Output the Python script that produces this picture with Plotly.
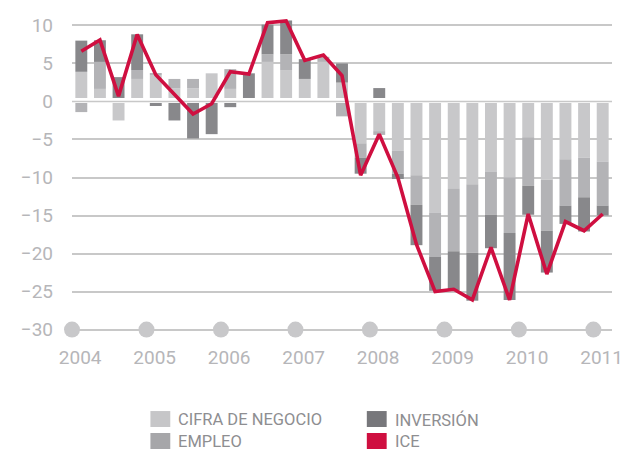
import plotly.graph_objects as go

# ---------------- data ----------------
years = [2004, 2005, 2006, 2007, 2008, 2009, 2010, 2011]
quarters = [f"{y}-T{q}" for y in range(2004, 2011) for q in range(1, 5)] + ["2011-T1"]

cifra = [3.9, 1.65, -2.5, 2.96, 3.5, 1.74, 1.74, 3.7,
         1.65, 0.0, 5.2, 4.13, 2.96, 5.2, 2.48, -5.5,
         -3.9, -6.5, -9.7, -14.6, -11.5, -10.9, -9.2, -10.0,
         -4.7, -10.3, -7.6, -7.4, -7.9]
empleo = [-1.4, 3.55, 0.0, 1.17, 0.2, 1.22, 1.22, 0.0,
          2.6, 0.0, 1.0, 2.07, 0.0, 0.67, -1.96, -1.9,
          -0.5, -3.0, -3.9, -5.8, -8.2, -9.0, -5.7, -7.3,
          -6.4, -6.7, -6.1, -5.2, -5.8]
inversion = [4.1, 2.85, 3.2, 4.7, -0.6, -2.5, -4.87, -4.3,
             -0.75, 3.7, 3.9, 4.45, 2.6, 0.0, 2.52, -2.1,
             1.76, -0.7, -5.3, -4.5, -5.15, -6.3, -4.4, -8.8,
             -3.8, -5.5, -2.4, -4.5, -1.3]
ice = [6.6, 8.1, 0.7, 8.8, 3.5, 0.9, -1.65, -0.3,
       3.9, 3.6, 10.35, 10.6, 5.4, 6.1, 3.4, -9.7,
       -4.3, -10.0, -18.8, -25.0, -24.7, -26.1, -19.2, -26.1,
       -14.8, -22.7, -15.8, -17.0, -14.8]

y_ticks = [10, 5, 0, -5, -10, -15, -20, -25, -30]
year_labels = [str(y) for y in years]
legend_names = ["CIFRA DE NEGOCIO", "EMPLEO", "INVERSIÓN", "ICE"]

# numeric x position for each quarter (center of quarter)
xq = [int(q[:4]) + (int(q[-1]) - 0.5) / 4 for q in quarters]

# ---------------- styles ----------------
C_CIFRA = "#c8c8ca"
C_EMPLEO = "#b3b3b6"
C_INV = "#88888b"
C_ICE = "#cf0f40"
LEG_COLORS = ["#c6c6c8", "#a6a6a9", "#77777b", "#cf0f40"]
GRID = "#c8c8c8"
TICK_COL = "#b6b6b9"
FONT = "Roboto"

OFF = 8  # page body margin offset
W, H = 628 - OFF, 451 - OFF
ML, MR, MT, MB = 72 - OFF, 12, 13.6 - OFF, 110.1
PW, PH = W - ML - MR, H - MT - MB
Y0, Y1 = -31.5, 11.5
X0, X1 = years[0], years[-1] + 0.25

fig = go.Figure()
for vals, col, name in [(cifra, C_CIFRA, legend_names[0]),
                        (empleo, C_EMPLEO, legend_names[1]),
                        (inversion, C_INV, legend_names[2])]:
    fig.add_trace(go.Bar(x=xq, y=vals, marker=dict(color=col, line=dict(width=0)),
                         name=name, showlegend=False))

# white band + zero line drawn over the bars (gap look of original)
px_per_unit = PH / (Y1 - Y0)
fig.add_trace(go.Scatter(x=[X0, X1], y=[0.9 / px_per_unit] * 2, mode="lines",
                         line=dict(color="white", width=5), showlegend=False,
                         hoverinfo="skip"))
fig.add_trace(go.Scatter(x=[X0, X1], y=[0, 0], mode="lines",
                         line=dict(color=GRID, width=1.5), showlegend=False,
                         hoverinfo="skip"))

fig.add_trace(go.Scatter(x=xq, y=ice, mode="lines", name=legend_names[3],
                         line=dict(color=C_ICE, width=3.6), showlegend=False))

# year circles on the bottom grid line
fig.add_trace(go.Scatter(x=years, y=[y_ticks[-1]] * len(years), mode="markers",
                         marker=dict(color="#c8c8ca", size=16, line=dict(width=0)),
                         cliponaxis=False, showlegend=False, hoverinfo="skip"))

fig.update_layout(
    width=W, height=H,
    margin=dict(l=ML, r=MR, t=MT, b=MB, pad=0),
    plot_bgcolor="white", paper_bgcolor="white",
    barmode="relative", bargap=0.36,
    font=dict(family=FONT, color=TICK_COL, size=19),
    showlegend=False,
)
fig.update_xaxes(range=[X0, X1], showgrid=False, zeroline=False, showline=False,
                 tickmode="array", tickvals=[y + 0.11 for y in years],
                 ticktext=year_labels, ticks="", ticklabelstandoff=3,
                 tickfont=dict(size=19, color=TICK_COL, family=FONT))
fig.update_yaxes(range=[Y0, Y1], tickmode="array", tickvals=y_ticks,
                 showgrid=True, gridcolor=GRID, gridwidth=1.5, zeroline=False,
                 showline=False, ticks="", ticklabelstandoff=18,
                 tickfont=dict(size=19, color=TICK_COL, family=FONT))


def pp(xp, yp):
    # xp, yp in screenshot pixels
    return (xp - OFF - ML) / PW, (H - MB - (yp - OFF)) / PH


# custom legend
leg_pos = [(151, 411), (151, 433), (369, 411), (369, 433)]
for (lx, ly), name, col in zip(leg_pos, legend_names, LEG_COLORS):
    x0p, y0p = pp(lx, ly + 16)
    x1p, y1p = pp(lx + 20, ly)
    fig.add_shape(type="rect", xref="paper", yref="paper", x0=x0p, x1=x1p,
                  y0=y0p, y1=y1p, fillcolor=col, line=dict(width=0))
    tx, ty = pp(lx + 26, ly + 8.5)
    fig.add_annotation(xref="paper", yref="paper", x=tx, y=ty, text=name,
                       showarrow=False, xanchor="left", yanchor="middle",
                       font=dict(family=FONT, size=16.5, color="#8e8e91"))

fig.write_html("out.html")
